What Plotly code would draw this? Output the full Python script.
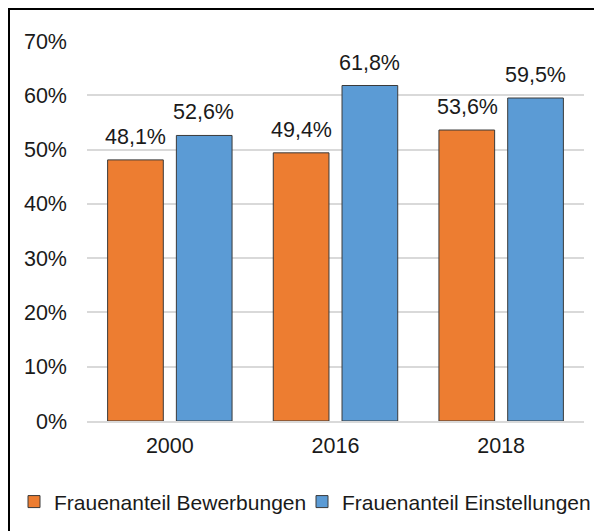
import plotly.graph_objects as go

categories = ["2000", "2016", "2018"]
bewerbungen = [48.1, 49.4, 53.6]
einstellungen = [52.6, 61.8, 59.5]
tick_values = [0, 10, 20, 30, 40, 50, 60, 70]
tick_labels = ["0%", "10%", "20%", "30%", "40%", "50%", "60%", "70%"]
series_names = ["Frauenanteil Bewerbungen", "Frauenanteil Einstellungen"]

FONT = "Liberation Sans, Arial, sans-serif"
TXT = "#1a1a1a"
FS = 21.5

ML, MT, PW, PH = 79, 33, 497, 380

fig = go.Figure()
fig.add_trace(go.Bar(
    x=categories, y=bewerbungen, name=series_names[0],
    marker=dict(color="#ED7D31", line=dict(color="#3a3a3a", width=1)),
))
fig.add_trace(go.Bar(
    x=categories, y=einstellungen, name=series_names[1],
    marker=dict(color="#5B9BD5", line=dict(color="#3a3a3a", width=1)),
))

annotations = []
for series, shift in ((bewerbungen, -34), (einstellungen, 34)):
    for idx, val in enumerate(series):
        annotations.append(dict(
            x=idx, y=val, xref="x", yref="y", xshift=shift, yshift=9,
            text=f"{val:.1f}%".replace(".", ","), showarrow=False,
            yanchor="bottom", xanchor="center",
            font=dict(size=FS, color=TXT, family=FONT),
        ))

fig.update_layout(
    width=602, height=531,
    margin=dict(l=ML, r=602 - ML - PW, t=MT, b=531 - MT - PH, autoexpand=False),
    paper_bgcolor="white", plot_bgcolor="white",
    barmode="group", bargap=0.17, bargroupgap=0.19,
    font=dict(family=FONT, size=FS, color=TXT),
    showlegend=True,
    legend=dict(orientation="h", x=(6 - ML) / PW, xanchor="left", y=-0.213, yanchor="middle",
                font=dict(size=21, color=TXT, family=FONT), traceorder="normal",
                itemwidth=30, entrywidthmode="pixels", entrywidth=243,
                bgcolor="rgba(0,0,0,0)"),
    yaxis=dict(range=[0, 70], tickmode="array", tickvals=tick_values, ticktext=tick_labels,
               showgrid=True, gridcolor="#d9d9d9", gridwidth=1.5, automargin=False,
               zeroline=False, showline=False, ticks="", ticklen=0, ticklabelstandoff=19,
               tickfont=dict(size=FS, color=TXT, family=FONT)),
    xaxis=dict(type="category", range=[-0.5, len(categories) - 0.5],
               showline=True, linecolor="#d9d9d9", linewidth=2, ticks="",
               automargin=False, ticklabelstandoff=4,
               tickfont=dict(size=FS, color=TXT, family=FONT)),
    annotations=annotations,
    shapes=[dict(type="rect", xref="paper", yref="paper",
                 x0=-(ML - 1) / PW, x1=1.2, y0=-0.5, y1=1 + (MT - 1) / PH,
                 line=dict(color="black", width=2), fillcolor="rgba(0,0,0,0)", layer="above")],
)

fig.write_html("out.html")
